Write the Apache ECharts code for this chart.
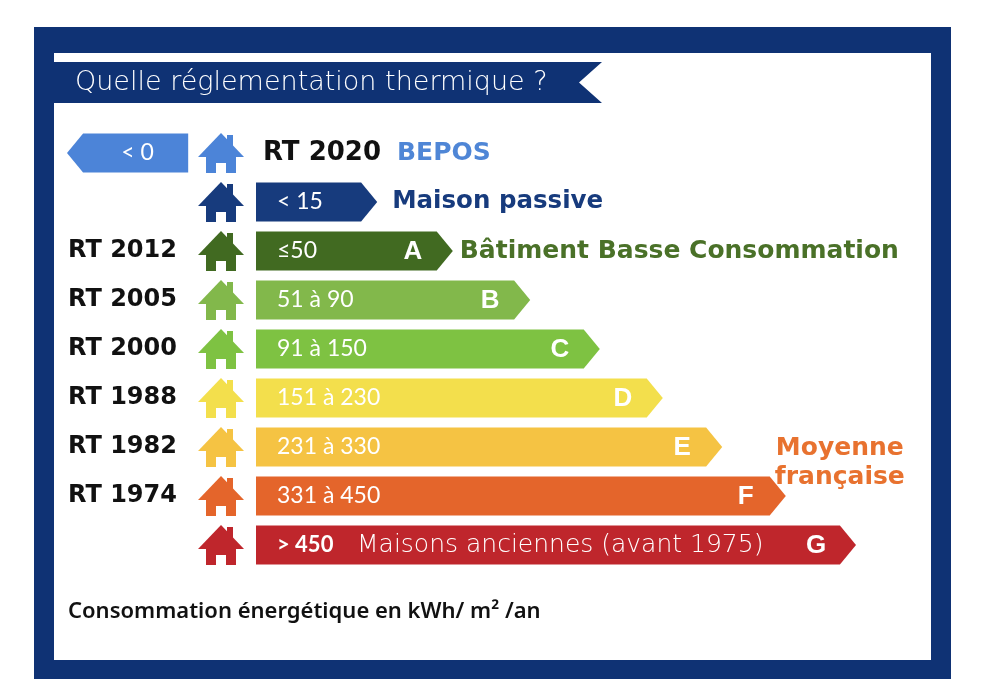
<!DOCTYPE html>
<html>
<head>
<meta charset="utf-8">
<script src="https://cdn.jsdelivr.net/npm/echarts@6/dist/echarts.min.js"></script>
<style>html,body{margin:0;padding:0;background:#fff}#c{width:984px;height:700px}</style>
</head>
<body>
<div id="c"></div>
<script>
// ---- data ----
const rows = ['BEPOS', 'Passive', 'A', 'B', 'C', 'D', 'E', 'F', 'G'];
const regulations = ['', '', 'RT 2012', 'RT 2005', 'RT 2000', 'RT 1988', 'RT 1982', 'RT 1974', ''];
const ranges = ['< 0', '< 15', '≤50', '51 à 90', '91 à 150', '151 à 230', '231 à 330', '331 à 450', '> 450'];
const classLetters = ['', '', 'A', 'B', 'C', 'D', 'E', 'F', 'G'];
const barStart = [-11.3, 0, 0, 0, 0, 0, 0, 0, 0];
const barTip = [-31.5, 20.2, 32.8, 45.7, 57.3, 67.8, 77.7, 88.3, 100];
const sideNotes = ['BEPOS', 'Maison passive', 'Bâtiment Basse Consommation', '', '', '', '', 'Moyenne\nfrançaise', ''];
const extraNotes = ['RT 2020', '', '', '', '', '', '', '', 'Maisons anciennes (avant 1975)'];
const rowColors = ['#4c84d8', '#173b7d', '#416a21', '#82b84b', '#7ec242', '#f3df4c', '#f5c343', '#e4652b', '#bf262c'];
const noteColors = ['#4f86d6', '#173b7d', '#4a7128', '', '', '', '', '', '#e8722f'];
const titleText = 'Quelle réglementation thermique ?';
const unitText = 'Consommation énergétique en kWh/ m² /an';

const NAVY = '#0f3274';
const HOUSE_X = -5.83;
const BOLD = 'DejaVu Sans';

const chart = echarts.init(document.getElementById('c'), null, {renderer: 'canvas'});

function housePath(cx, cy, color) {
  return [
    {type: 'rect', shape: {x: cx + 6, y: cy - 18, width: 6, height: 14}, style: {fill: color}},
    {type: 'polygon', shape: {points: [[cx - 23, cy + 4], [cx, cy - 20], [cx + 23, cy + 4]]}, style: {fill: color}},
    {type: 'rect', shape: {x: cx - 15, y: cy + 3, width: 30, height: 17}, style: {fill: color}},
    {type: 'rect', shape: {x: cx - 5, y: cy + 10, width: 10, height: 10}, style: {fill: '#ffffff'}}
  ];
}

function renderItem(params, api) {
  const i = api.value(0);
  const s = api.coord([api.value(1), i]);
  const t = api.coord([api.value(2), i]);
  const band = api.size([0, 1])[1];
  const h = band * 0.8;
  const d = h * 0.41;
  const dir = t[0] >= s[0] ? 1 : -1;
  const cy = s[1];
  const be = t[0] - dir * d;
  const color = rowColors[i];
  const children = [{
    type: 'polygon',
    shape: {points: [[s[0], cy - h / 2], [be, cy - h / 2], [t[0], cy], [be, cy + h / 2], [s[0], cy + h / 2]]},
    style: {fill: color}
  }];
  const hc = api.coord([HOUSE_X, i]);
  housePath(hc[0], cy, color).forEach(c => children.push(c));

  // range label
  if (i === 8) {
    children.push({type: 'text', style: {
      x: s[0] + 21, y: cy, verticalAlign: 'middle', align: 'left',
      text: '{a|' + ranges[i] + '}{b|' + extraNotes[i] + '}',
      rich: {
        a: {fill: '#fff', fontFamily: 'Lato', fontWeight: 'bold', fontSize: 22, width: 80},
        b: {fill: '#fff', fontFamily: 'DejaVu Sans', fontWeight: 200, fontSize: 25}
      }
    }});
  } else {
    children.push({type: 'text', style: {
      x: dir > 0 ? s[0] + 21 : (s[0] + be) / 2 + 2, y: cy,
      align: dir > 0 ? 'left' : 'center', verticalAlign: 'middle',
      text: ranges[i], fill: '#fff', fontFamily: 'Lato', fontSize: 23
    }});
  }
  if (classLetters[i]) {
    children.push({type: 'text', style: {
      x: t[0] - 40, y: cy + 1, align: 'center', verticalAlign: 'middle',
      text: classLetters[i], fill: '#fff', fontFamily: 'Liberation Sans', fontWeight: 'bold', fontSize: 26
    }});
  }
  // side notes
  if (i === 0) {
    children.push({type: 'text', style: {
      x: hc[0] + 42, y: cy, align: 'left', verticalAlign: 'middle',
      text: '{k|' + extraNotes[i] + '}{n|' + sideNotes[i] + '}',
      rich: {
        k: {fill: '#111', fontFamily: BOLD, fontWeight: 'bold', fontSize: 26, width: 134},
        n: {fill: noteColors[i], fontFamily: BOLD, fontWeight: 'bold', fontSize: 25}
      }
    }});
  } else if (i === 1 || i === 2) {
    children.push({type: 'text', style: {
      x: t[0] + (i === 1 ? 15 : 7), y: cy, align: 'left', verticalAlign: 'middle',
      text: sideNotes[i], fill: noteColors[i], fontFamily: BOLD, fontWeight: 'bold', fontSize: i === 1 ? 24.5 : 25
    }});
  } else if (sideNotes[i]) {
    children.push({type: 'text', style: {
      x: t[0] + 54, y: cy - 33, align: 'center', verticalAlign: 'middle',
      text: sideNotes[i], fill: noteColors[8], fontFamily: BOLD, fontWeight: 'bold', fontSize: 25, lineHeight: 29
    }});
  }
  return {type: 'group', children: children};
}

const seriesData = rows.map((r, i) => [i, barStart[i], barTip[i]]);

chart.setOption({
  animation: false,
  graphic: [
    {type: 'rect', z: -100, shape: {x: 34, y: 27, width: 917, height: 652}, style: {fill: NAVY}},
    {type: 'rect', z: -99, shape: {x: 54, y: 53, width: 877, height: 607}, style: {fill: '#ffffff'}},
    {type: 'polygon', z: -98, shape: {points: [[54, 62], [602, 62], [579, 82.5], [602, 103], [54, 103]]}, style: {fill: NAVY}},
    {type: 'text', z: 5, x: 75, y: 83, style: {text: titleText, fill: '#ffffff', fontFamily: 'DejaVu Sans', fontWeight: 200, fontSize: 27, verticalAlign: 'middle'}},
    {type: 'text', z: 5, x: 68, y: 612, style: {text: unitText, fill: '#111111', fontFamily: 'Noto Sans', fontWeight: 600, fontSize: 22, verticalAlign: 'middle'}}
  ],
  grid: {left: 256, right: 128, top: 128.5, bottom: 130.5},
  xAxis: {type: 'value', min: 0, max: 100, show: false},
  yAxis: {
    type: 'category', inverse: true, data: rows,
    axisLine: {show: false}, axisTick: {show: false}, splitLine: {show: false},
    axisLabel: {
      align: 'left', margin: 188,
      formatter: (v, idx) => regulations[idx],
      color: '#111', fontFamily: BOLD, fontWeight: 'bold', fontSize: 24
    }
  },
  series: [{
    type: 'custom', z: 10, renderItem: renderItem, clip: false,
    encode: {x: [1, 2], y: 0},
    data: seriesData
  }]
});
</script>
</body>
</html>
